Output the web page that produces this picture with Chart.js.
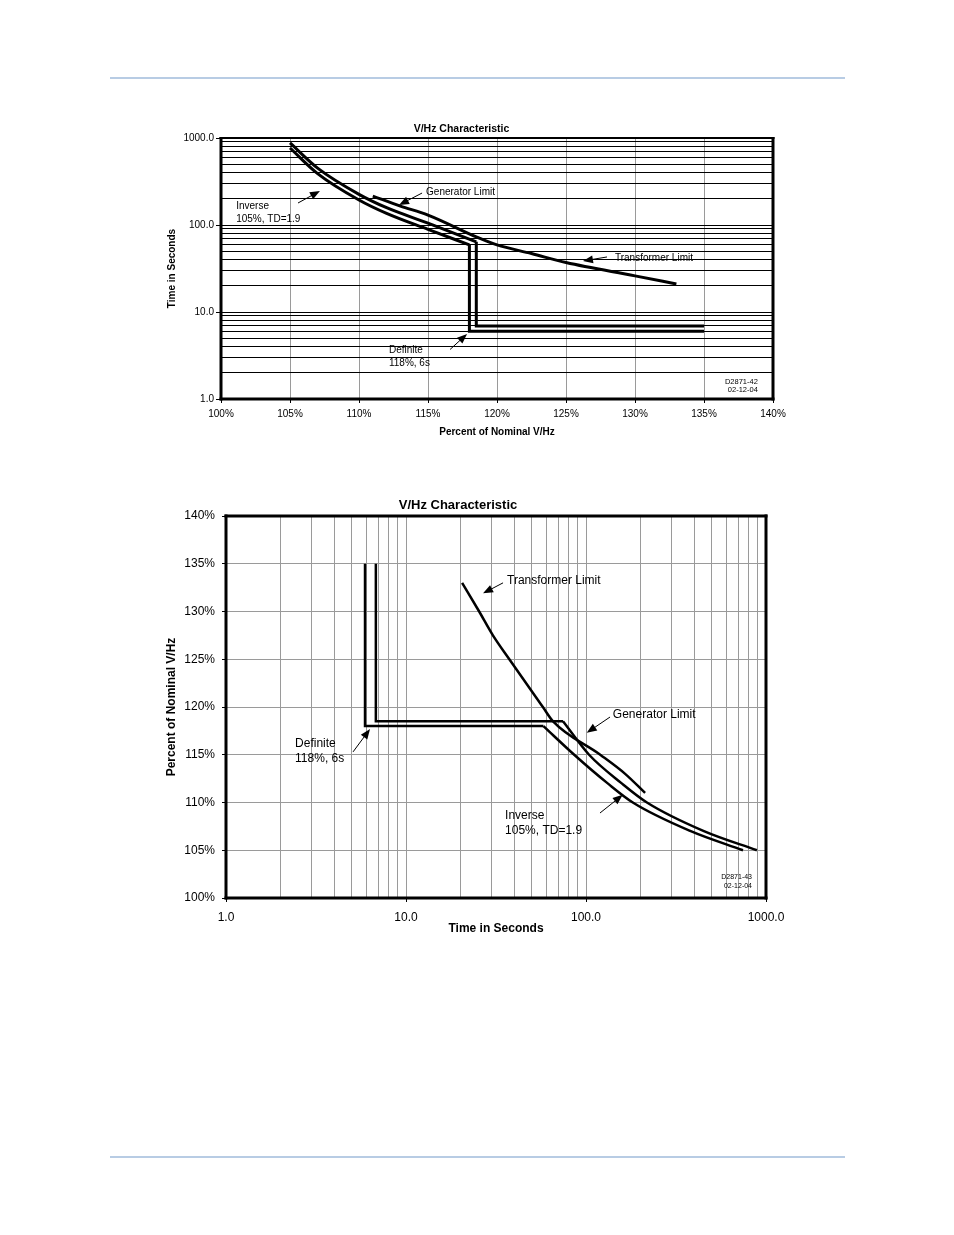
<!DOCTYPE html>
<html>
<head>
<meta charset="utf-8">
<title>V/Hz Characteristic</title>
<script src="https://cdn.jsdelivr.net/npm/chart.js@4.4.1/dist/chart.umd.min.js"></script>
<style>
    body { margin: 0; background: #fff; width: 954px; height: 1235px; position: relative; overflow: hidden; }
    .rule { position: absolute; left: 110px; width: 735px; height: 2px; background: #b8cce4; }
    canvas { position: absolute; }
</style>
</head>
<body>
<div class="rule" style="top:77px"></div>
<div class="rule" style="top:1156px"></div>
<canvas id="topChart" width="660" height="335" style="left:150px;top:112px"></canvas>
<canvas id="bottomChart" width="660" height="460" style="left:150px;top:490px"></canvas>
<script>
var FONT = 'Arial, "Liberation Sans", sans-serif';

// axis ticks
var pctTicks = [100, 105, 110, 115, 120, 125, 130, 135, 140];
var secGrid = [1, 2, 3, 4, 5, 6, 7, 8, 9, 10, 20, 30, 40, 50, 60, 70, 80, 90,
               100, 200, 300, 400, 500, 600, 700, 800, 900, 1000];
var secLabelValues = [1, 10, 100, 1000];
var secLabelText = ['1.0', '10.0', '100.0', '1000.0'];

// figure D2871-42 (percent -> seconds)
var topInvPct = [105, 107, 110, 112, 115, 118];
var topInvSec = [767, 390, 194, 136, 89, 59];
var topInv2Pct = [105, 107, 110, 112, 115, 118.5];
var topInv2Sec = [877, 450, 225, 158, 105, 64];
var topDefPct = [118, 118, 135];
var topDefSec = [59, 6, 6];
var topDef2Pct = [118.5, 118.5, 135];
var topDef2Sec = [64, 6.9, 6.9];
var topLimitPct = [111, 113, 115, 118.5, 120, 122.5, 125, 130, 133];
var topLimitSec = [215, 165, 130, 73, 59, 47, 37, 26, 21];

// figure D2871-43 (seconds -> percent)
var botInvPct = [105, 107, 110, 112, 115, 118];
var botInvSec = [745, 382, 182, 132, 86, 58];
var botInv2Pct = [105, 107, 110, 112, 115, 118.5];
var botInv2Sec = [890, 452, 218, 158, 104, 74.5];
var botDefPct = [135, 118, 118];
var botDefSec = [5.92, 5.92, 58];
var botDef2Pct = [135, 118.5, 118.5];
var botDef2Sec = [6.8, 6.8, 74.5];
var botLimitPct = [111, 113, 115, 118.5, 120, 125, 127.5, 130, 133];
var botLimitSec = [213, 165, 120, 65.6, 57.6, 37.5, 30.4, 25.5, 20.5];

function pts(xs, ys) {
    return xs.map(function (x, i) { return { x: x, y: ys[i] }; });
}
// monotone spline wants the points ordered along x
function byX(list) {
    return list.slice().sort(function (a, b) { return a.x - b.x; });
}

function line(data, width, smooth) {
    return {
        data: data,
        borderColor: '#000',
        backgroundColor: '#000',
        borderWidth: width,
        pointRadius: 0,
        fill: false,
        tension: smooth ? 0.4 : 0,
        cubicInterpolationMode: smooth ? 'monotone' : 'default',
        borderJoinStyle: 'miter',
        borderCapStyle: 'butt'
    };
}

function isLabelled(v) { return secLabelValues.indexOf(v) >= 0; }

var framePlugin = {
    id: 'frame',
    afterDraw: function (chart, args, o) {
        var a = chart.chartArea, ctx = chart.ctx;
        var x0 = a.left - o.left / 2, x1 = a.right + o.right / 2;
        var y0 = a.top - o.top / 2, y1 = a.bottom + o.bottom / 2;
        ctx.save();
        ctx.fillStyle = '#000';
        ctx.fillRect(x0, y0, x1 - x0, o.top);
        ctx.fillRect(x0, a.bottom - o.bottom / 2, x1 - x0, o.bottom);
        ctx.fillRect(x0, y0, o.left, y1 - y0);
        ctx.fillRect(a.right - o.right / 2, y0, o.right, y1 - y0);
        ctx.restore();
    }
};

var notesPlugin = {
    id: 'notes',
    afterDraw: function (chart, args, opts) {
        var ctx = chart.ctx, xs = chart.scales.x, ys = chart.scales.y;
        ctx.save();
        ctx.fillStyle = '#000';
        ctx.strokeStyle = '#000';
        opts.texts.forEach(function (n) {
            ctx.font = (n.size || opts.size) + 'px ' + FONT;
            ctx.textAlign = n.align || 'left';
            ctx.textBaseline = 'middle';
            var px = xs.getPixelForValue(n.x), py = ys.getPixelForValue(n.y);
            n.lines.forEach(function (t, i) { ctx.fillText(t, px, py + i * (n.lh || opts.lh)); });
        });
        opts.arrows.forEach(function (a) {
            var x1 = xs.getPixelForValue(a[0]), y1 = ys.getPixelForValue(a[1]);
            var x2 = xs.getPixelForValue(a[2]), y2 = ys.getPixelForValue(a[3]);
            var ang = Math.atan2(y2 - y1, x2 - x1);
            var c = Math.cos(ang), s = Math.sin(ang);
            ctx.lineWidth = 1;
            ctx.beginPath();
            ctx.moveTo(x1, y1);
            ctx.lineTo(x2 - 8 * c, y2 - 8 * s);
            ctx.stroke();
            ctx.beginPath();
            ctx.moveTo(x2, y2);
            ctx.lineTo(x2 - 10 * c + 4 * s, y2 - 10 * s - 4 * c);
            ctx.lineTo(x2 - 10 * c - 4 * s, y2 - 10 * s + 4 * c);
            ctx.closePath();
            ctx.fill();
        });
        ctx.restore();
    }
};

function secTicks(s) {
    s.ticks = secGrid.map(function (v) { return { value: v }; });
}
function pctTickList(s) {
    s.ticks = pctTicks.map(function (v) { return { value: v }; });
}
function secLabel(v) {
    var i = secLabelValues.indexOf(v);
    return i >= 0 ? secLabelText[i] : '';
}

// ---- top figure ----
new Chart(document.getElementById('topChart'), {
    type: 'line',
    data: {
        datasets: [
            line(pts(topInvPct, topInvSec), 3, true),
            line(pts(topInv2Pct, topInv2Sec), 3, true),
            line(pts(topDefPct, topDefSec), 3, false),
            line(pts(topDef2Pct, topDef2Sec), 3, false),
            line(pts(topLimitPct, topLimitSec), 3, true)
        ]
    },
    plugins: [framePlugin, notesPlugin],
    options: {
        responsive: false,
        animation: false,
        events: [],
        layout: { padding: { left: 0, right: 37, top: 0, bottom: 0 } },
        plugins: {
            legend: { display: false },
            tooltip: { enabled: false },
            title: {
                display: true,
                text: 'V/Hz Characteristic',
                color: '#000',
                font: { family: FONT, size: 10.5, weight: 'bold' },
                padding: { top: 10.7, bottom: 2.7 }
            },
            frame: { left: 3, bottom: 3, top: 2, right: 3 },
            notes: {
                size: 10, lh: 13,
                texts: [
                    { x: 101.1, y: 165, lines: ['Inverse', '105%, TD=1.9'] },
                    { x: 114.86, y: 239, lines: ['Generator Limit'] },
                    { x: 128.55, y: 41.8, lines: ['Transformer Limit'] },
                    { x: 112.17, y: 3.66, lines: ['Definite', '118%, 6s'] },
                    { x: 138.9, y: 1.57, lines: ['D2871-42', '02-12-04'], align: 'right', size: 7.5, lh: 8 }
                ],
                arrows: [
                    [105.58, 179, 107.17, 246],
                    [114.57, 233, 112.9, 170],
                    [127.97, 42.9, 126.23, 38.6],
                    [116.6, 3.71, 117.83, 5.6]
                ]
            }
        },
        scales: {
            x: {
                type: 'linear', min: 100, max: 140,
                afterBuildTicks: pctTickList,
                afterFit: function (s) { s.height = 48; },
                ticks: {
                    autoSkip: false, maxRotation: 0, minRotation: 0, padding: 5, color: '#000',
                    font: { family: FONT, size: 10 },
                    callback: function (v) { return v + '%'; }
                },
                grid: { color: '#9a9a9a', lineWidth: 1, tickLength: 4, tickColor: '#000' },
                border: { display: false },
                title: {
                    display: true, text: 'Percent of Nominal V/Hz', color: '#000',
                    font: { family: FONT, size: 10, weight: 'bold' },
                    padding: { top: 0, bottom: 9 }
                }
            },
            y: {
                type: 'logarithmic', min: 1, max: 1000,
                afterBuildTicks: secTicks,
                afterFit: function (s) { s.width = 71; },
                ticks: {
                    autoSkip: false, padding: 2, color: '#000',
                    font: { family: FONT, size: 10 },
                    callback: secLabel
                },
                grid: {
                    color: '#000', lineWidth: 1, tickLength: 5,
                    tickColor: function (c) { return isLabelled(c.tick.value) ? '#000' : 'rgba(0,0,0,0)'; }
                },
                border: { display: false },
                title: {
                    display: true, text: 'Time in Seconds', color: '#000',
                    font: { family: FONT, size: 10, weight: 'bold' },
                    padding: { top: 16, bottom: 0 }
                }
            }
        }
    }
});

// ---- bottom figure ----
new Chart(document.getElementById('bottomChart'), {
    type: 'line',
    data: {
        datasets: [
            line(byX(pts(botInvSec, botInvPct)), 2.5, true),
            line(byX(pts(botInv2Sec, botInv2Pct)), 2.5, true),
            line(pts(botDefSec, botDefPct), 2.5, false),
            line(pts(botDef2Sec, botDef2Pct), 2.5, false),
            line(byX(pts(botLimitSec, botLimitPct)), 2.5, true)
        ]
    },
    plugins: [framePlugin, notesPlugin],
    options: {
        responsive: false,
        animation: false,
        events: [],
        layout: { padding: { left: 0, right: 44, top: 0, bottom: 0 } },
        plugins: {
            legend: { display: false },
            tooltip: { enabled: false },
            title: {
                display: true,
                text: 'V/Hz Characteristic',
                color: '#000',
                font: { family: FONT, size: 13, weight: 'bold' },
                padding: { top: 7.2, bottom: 3.2 }
            },
            frame: { left: 3, bottom: 3, top: 3, right: 3 },
            notes: {
                size: 12, lh: 15,
                texts: [
                    { x: 36.4, y: 133.2, lines: ['Transformer Limit'] },
                    { x: 141, y: 119.2, lines: ['Generator Limit'] },
                    { x: 35.5, y: 108.6, lines: ['Inverse', '105%, TD=1.9'] },
                    { x: 2.42, y: 116.2, lines: ['Definite', '118%, 6s'] },
                    { x: 836, y: 102.2, lines: ['D2871-43', '02-12-04'], align: 'right', size: 7, lh: 9 }
                ],
                arrows: [
                    [34.6, 133.0, 26.8, 131.9],
                    [136, 118.95, 101, 117.3],
                    [119.6, 108.9, 160, 110.8],
                    [5.08, 115.3, 6.31, 117.7]
                ]
            }
        },
        scales: {
            x: {
                type: 'logarithmic', min: 1, max: 1000,
                afterBuildTicks: secTicks,
                afterFit: function (s) { s.height = 52; },
                ticks: {
                    autoSkip: false, maxRotation: 0, minRotation: 0, padding: 8, color: '#000',
                    font: { family: FONT, size: 12 },
                    callback: secLabel
                },
                grid: {
                    color: '#9a9a9a', lineWidth: 1, tickLength: 4,
                    tickColor: function (c) { return isLabelled(c.tick.value) ? '#000' : 'rgba(0,0,0,0)'; }
                },
                border: { display: false },
                title: {
                    display: true, text: 'Time in Seconds', color: '#000',
                    font: { family: FONT, size: 12, weight: 'bold' },
                    padding: { top: 0, bottom: 13.8 }
                }
            },
            y: {
                type: 'linear', min: 100, max: 140,
                afterBuildTicks: pctTickList,
                afterFit: function (s) { s.width = 76; },
                ticks: {
                    autoSkip: false, padding: 7, color: '#000',
                    font: { family: FONT, size: 12 },
                    callback: function (v) { return v + '%'; }
                },
                grid: { color: '#9a9a9a', lineWidth: 1, tickLength: 4, tickColor: '#000' },
                border: { display: false },
                title: {
                    display: true, text: 'Percent of Nominal V/Hz', color: '#000',
                    font: { family: FONT, size: 12, weight: 'bold' },
                    padding: { top: 14.8, bottom: 0 }
                }
            }
        }
    }
});
</script>
</body>
</html>
